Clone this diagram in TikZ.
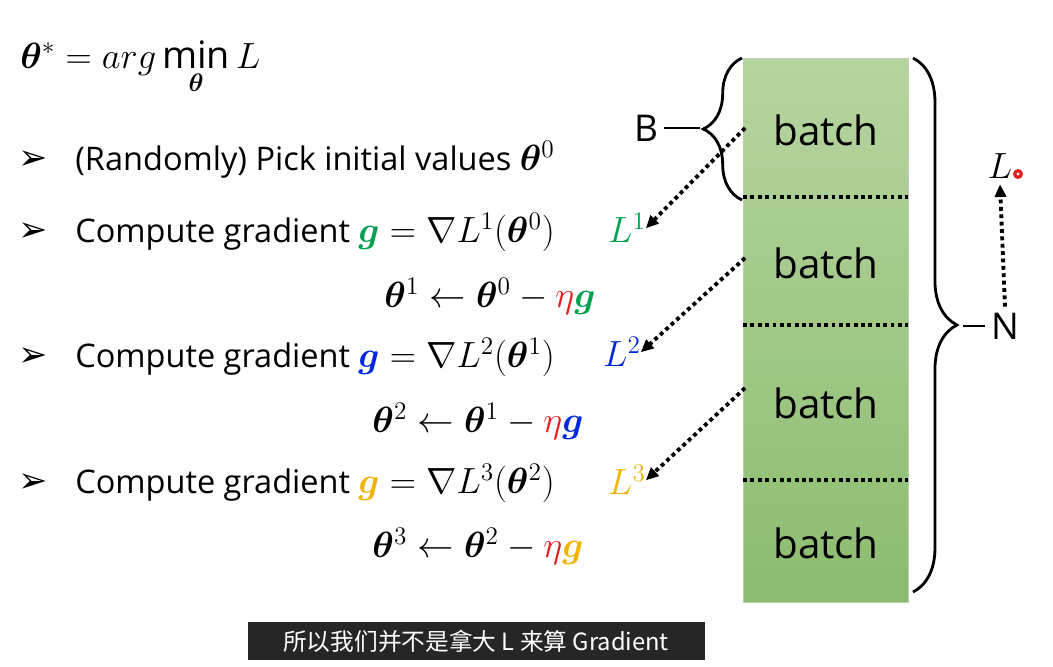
\documentclass[tikz,border=0pt]{standalone}
\usepackage{amsmath,bm}
\usepackage{fontspec}
\setmainfont{Open Sans}
\newfontfamily\dejavu{DejaVu Sans}
\newfontfamily\cjk{Noto Sans CJK SC}
\usetikzlibrary{decorations.pathreplacing,arrows.meta}
\definecolor{gg}{RGB}{0,160,80}
\definecolor{bb}{RGB}{0,40,220}
\definecolor{yy}{RGB}{240,180,0}
\definecolor{rr}{RGB}{230,30,30}
\definecolor{topg}{RGB}{182,212,160}
\definecolor{botg}{RGB}{140,188,110}
\begin{document}
\begin{tikzpicture}[x=0.02cm,y=-0.02cm,
  txt/.style={anchor=west,font=\fontsize{18.5}{22}\selectfont,inner sep=0},
  bul/.style={anchor=west,font=\dejavu\fontsize{20}{22}\selectfont,inner sep=0},
  upd/.style={anchor=center,font=\fontsize{21}{24}\selectfont,inner sep=0},
  bt/.style={font=\fontsize{23}{26}\selectfont},
  dl/.style={dotted,line width=2.2pt},
  darr/.style={dotted,line width=2.2pt,-{Triangle[length=7pt,width=7pt,line width=0pt]}}]
\useasboundingbox (0,0) rectangle (1053,666);
\node[anchor=west,inner sep=0,font=\fontsize{21.5}{24}\selectfont] (t0) at (20,68) {$\bm{\theta}^{*}=arg\min\limits_{\bm\theta} L$};
\node[bul] (b1) at (18,160) {➢};
\node[bul] (b2) at (18,232) {➢};
\node[bul] (b3) at (18,357) {➢};
\node[bul] (b4) at (18,483) {➢};
\node[txt] (l1) at (75,160) {(Randomly) Pick initial values \fontsize{22}{24}\selectfont$\bm\theta^0$};
\node[txt] (l2) at (75,232) {Compute gradient \fontsize{22}{24}\selectfont$\color{gg}\bm g\color{black}=\nabla L^1(\bm\theta^0)$};
\node[txt] (l3) at (75,357) {Compute gradient \fontsize{22}{24}\selectfont$\color{bb}\bm g\color{black}=\nabla L^2(\bm\theta^1)$};
\node[txt] (l4) at (75,483) {Compute gradient \fontsize{22}{24}\selectfont$\color{yy}\bm g\color{black}=\nabla L^3(\bm\theta^2)$};
\node[upd] (u1) at (490,296) {$\bm\theta^1\leftarrow\bm\theta^0-{\color{rr}\eta}{\color{gg}\bm g}$};
\node[upd] (u2) at (478,421) {$\bm\theta^2\leftarrow\bm\theta^1-{\color{rr}\eta}{\color{bb}\bm g}$};
\node[upd] (u3) at (478,546) {$\bm\theta^3\leftarrow\bm\theta^2-{\color{rr}\eta}{\color{yy}\bm g}$};
\node[upd,text=gg] (L1) at (627,228) {$L^1$};
\node[upd,text=bb] (L2) at (622,352) {$L^2$};
\node[upd,text=yy] (L3) at (627,480) {$L^3$};
\shade[top color=topg,bottom color=botg,draw=topg!80!black!60] (743,58) rectangle (908,602);
\draw[dl] (743,197) -- (908,197);
\draw[dl] (743,325) -- (908,325);
\draw[dl] (743,480) -- (908,480);
\node[bt] (a1) at (826,130) {batch};
\node[bt] (a2) at (826,263) {batch};
\node[bt] (a3) at (826,403) {batch};
\node[bt] (a4) at (826,543) {batch};
\coordinate (s1) at (745,128); \coordinate (s2) at (745,258); \coordinate (s3) at (745,388);
\draw[darr] (s1) -- (L1.east);
\draw[darr] (s2) -- (L2.east);
\draw[darr] (s3) -- (L3.east);
\draw[line width=1.6pt,decorate,decoration={brace,amplitude=22pt,mirror}] (742,58) -- (742,200);
\node[font=\fontsize{21}{24}\selectfont] (B) at (646,128) {B};
\draw[line width=1.6pt] (B.east) -- (700,128);
\draw[line width=1.6pt,decorate,decoration={brace,amplitude=25pt}] (913,58) -- (913,592);
\node[font=\fontsize{21}{24}\selectfont] (N) at (1005,326) {N};
\draw[line width=1.6pt] (N.west) -- (963,326);
\node[font=\fontsize{22}{24}\selectfont] (L) at (1000,166) {$L$};
\fill[rr] (1018,174) circle (5);
\fill[white] (1018,174) circle (1.6);
\draw[darr] (N.north) -- (L.south);
\fill[black!85] (248,622) rectangle (705,660);
\node[text=white,font=\cjk\fontsize{13.5}{15}\selectfont] (sub) at (476,641) {所以我们并不是拿大 L 来算 Gradient};
\end{tikzpicture}
\end{document}
